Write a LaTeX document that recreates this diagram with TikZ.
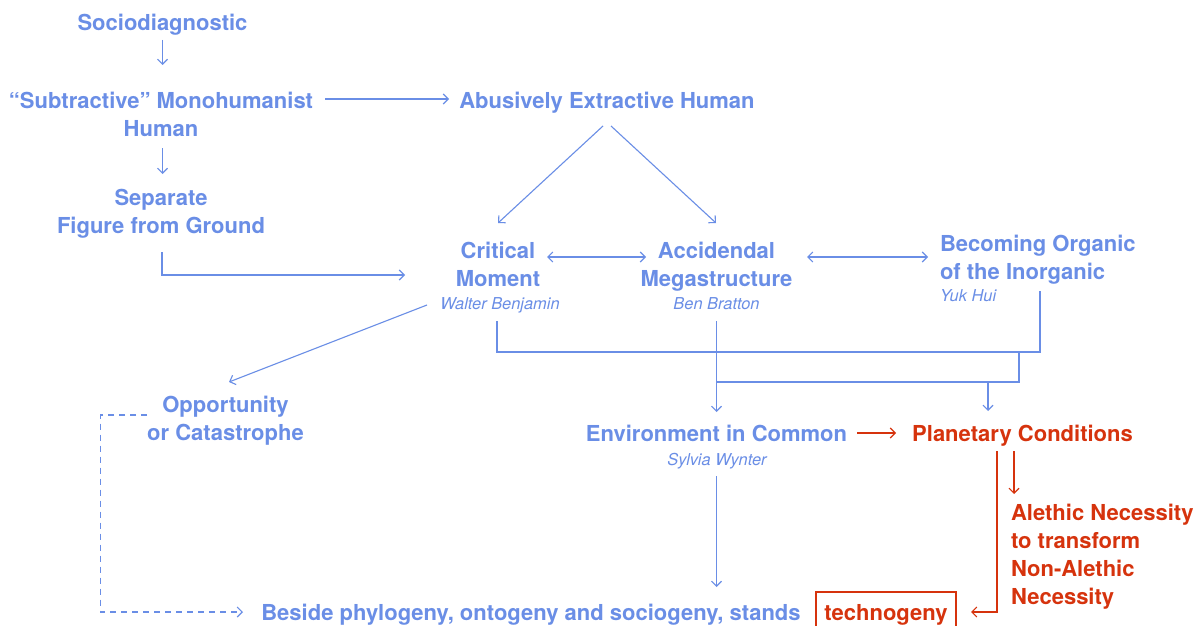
\documentclass[tikz,border=0pt]{standalone}
\usepackage{fontspec}
\setmainfont{TeX Gyre Heros}
\usetikzlibrary{arrows.meta,calc}
\definecolor{cblue}{HTML}{6A8EE6}
\definecolor{cred}{HTML}{D6330D}
\begin{document}
\begin{tikzpicture}[x=1pt,y=-1pt,
  every node/.style={inner sep=0pt, outer sep=0pt},
  term/.style={font=\bfseries\fontsize{22}{28}\selectfont, text=cblue, align=center, anchor=base},
  hot/.style={term, text=cred},
  author/.style={font=\itshape\fontsize{16.4}{20}\selectfont, text=cblue, anchor=base},
  link/.style={draw=cblue, line width=1.1pt},
  arr/.style={link, -{Straight Barb[length=5pt,width=10pt]}},
  darr/.style={link, {Straight Barb[length=5pt,width=10pt]}-{Straight Barb[length=5pt,width=10pt]}},
  redarr/.style={arr, draw=cred},
  dashedarr/.style={arr, dash pattern=on 6pt off 5pt}
]
\useasboundingbox[fill=white] (0,0) rectangle (1199,626);

% concepts (multi-line nodes are placed by the baseline of their last line)
\node[term] (socio) at (162.5,31) {Sociodiagnostic};
\node[term] (subtr) at (161,136) {“Subtractive” Monohumanist\\Human};
\node[term] (abus) at (607,108) {Abusively Extractive Human};
\node[term] (sep) at (161,233) {Separate\\Figure from Ground};
\node[term] (crit) at (498,286) {Critical\\Moment};
\node[author] (wb) at (500,309) {Walter Benjamin};
\node[term] (acc) at (716.5,286) {Accidendal\\Megastructure};
\node[author] (bb) at (716.5,309) {Ben Bratton};
\node[term, align=left, anchor=base west] (bec) at (940,279) {Becoming Organic\\of the Inorganic};
\node[author, anchor=base west] (yuk) at (940,301.7) {Yuk Hui};
\node[term] (opp) at (225.5,440) {Opportunity\\or Catastrophe};
\node[term] (env) at (716.5,441) {Environment in Common};
\node[author] (sw) at (717,465) {Sylvia Wynter};
\node[hot] (plan) at (1022.5,441) {Planetary Conditions};
\node[hot, align=left, anchor=base west] (alet) at (1011,604) {Alethic Necessity\\to transform\\Non-Alethic\\Necessity};
\node[term] (beside) at (531,620) {Beside phylogeny, ontogeny and sociogeny, stands};
\node[hot, draw=cred, line width=1.1pt, minimum width=140pt, text height=28pt, text depth=12pt] (techno) at (886,620) {technogeny};

% connectors
\draw[arr] ($(socio.base)+(0,9)$) -- ($(subtr.base)+(1.5,-71)$);
\draw[arr] ($(subtr.base)+(164,-37)$) -- ($(abus.base)+(-158,-9)$);
\draw[arr] ($(subtr.base)+(1.5,12)$) -- ($(sep.base)+(1.5,-59)$);
\draw[arr] ($(sep.base)+(1,19)$) |- ($(crit.base)+(-93,-11)$);
\draw[arr] ($(abus.base)+(-4,18)$) -- ($(crit.base)+(0,-63)$);
\draw[arr] ($(abus.base)+(4,18)$) -- ($(acc.base)+(-0.5,-63)$);
\draw[darr] ($(crit.base)+(49,-29)$) -- ($(acc.base)+(-70.5,-29)$);
\draw[darr] ($(acc.base)+(90.5,-29)$) -- ($(bec.base west)+(-12,-22)$);
\draw[arr] ($(wb.base)+(-73,-4)$) -- ($(opp.base)+(3.5,-58)$);
\draw[dashedarr] ($(opp.base)+(-78.5,-25)$) -- ++(-46.5,0) |- ($(beside.base)+(-288,-8)$);

% gathering bus below the three theories
\coordinate (busR) at ($(yuk.base west)+(79,50.3)$);
\coordinate (merge) at ($(busR)+(0,30)$);
\draw[link] ($(wb.base)+(-3,12)$) -- ++(0,31) -| ($(yuk.base west)+(100,-10.7)$);
\draw[link] (busR) -- (merge) -- ($(bb.base)+(0,73)$);
\draw[arr] ($(bb.base)+(0,12)$) -- ($(env.base)+(0,-29)$);
\draw[arr] ($(plan.base)+(-34.5,-59)$) -- ($(plan.base)+(-34.5,-30)$);
\draw[arr] ($(sw.base)+(-0.5,11)$) -- ($(beside.base)+(185.5,-33)$);

% planetary branch
\draw[redarr] ($(env.base)+(140.5,-8)$) -- ($(plan.base)+(-126.5,-8)$);
\draw[redarr] ($(plan.base)+(-25.5,10)$) |- ($(techno.base)+(85,-8)$);
\draw[redarr] ($(plan.base)+(-8.5,10)$) -- ($(alet.base west)+(3,-110)$);
\end{tikzpicture}
\end{document}
